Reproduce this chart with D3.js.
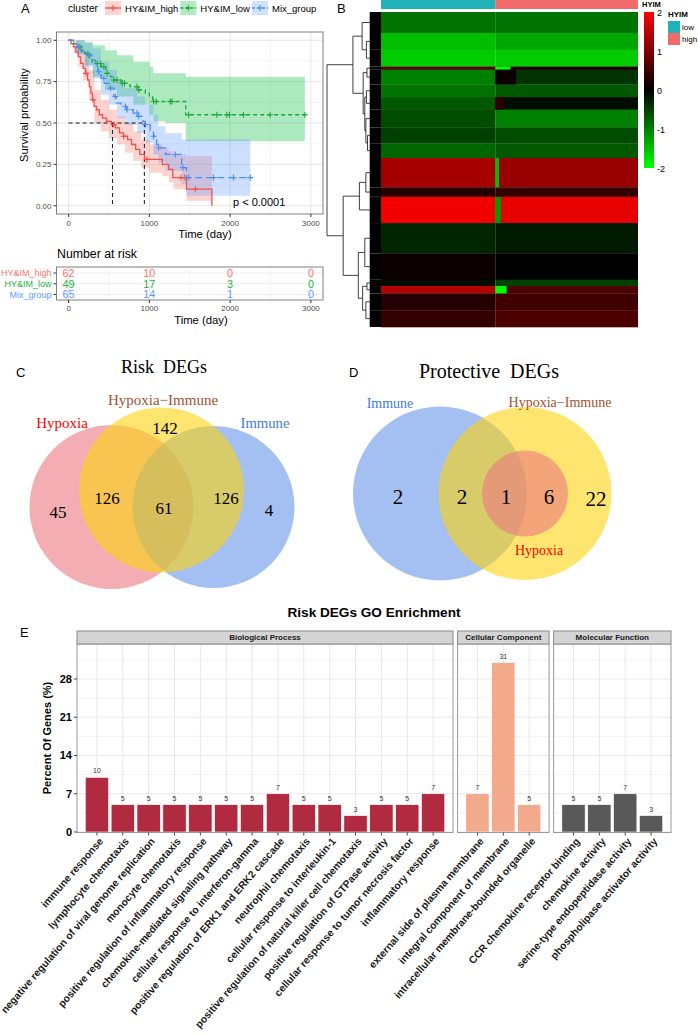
<!DOCTYPE html>
<html><head><meta charset="utf-8">
<script src="https://cdn.jsdelivr.net/npm/d3@7"></script>
<style>
body{margin:0;background:#fff}
svg{display:block}
text{font-family:"Liberation Sans",Arial,Helvetica,sans-serif}
.serif{font-family:"Liberation Serif","Times New Roman",serif}
</style></head><body>
<svg id="chart" width="698" height="1034"></svg>
<script>
// ================= DATA =================
// Panel A : Kaplan-Meier
const clusterNames = ["HY&IM_high", "HY&IM_low", "Mix_group"];
const survHigh = [[0,1],[30,0.98],[60,0.96],[90,0.93],[120,0.90],[150,0.86],[180,0.83],[210,0.80],[235,0.76],[255,0.72],[275,0.68],[295,0.64],[315,0.60],[345,0.58],[380,0.55],[420,0.53],[470,0.51],[530,0.49],[580,0.47],[630,0.44],[680,0.42],[730,0.40],[780,0.37],[830,0.34],[880,0.31],[940,0.28],[1160,0.25],[1240,0.22],[1290,0.17],[1460,0.10],[1774,0]];
const survLow = [[0,1],[50,0.98],[100,0.96],[150,0.94],[200,0.92],[260,0.89],[290,0.86],[400,0.84],[460,0.80],[520,0.78],[560,0.76],[650,0.74],[760,0.72],[850,0.70],[950,0.68],[1000,0.66],[1040,0.63],[1450,0.55],[2950,0.55]];
const survMix = [[0,1],[60,0.98],[100,0.96],[160,0.93],[240,0.91],[290,0.88],[330,0.84],[360,0.81],[400,0.77],[440,0.74],[500,0.71],[560,0.66],[590,0.62],[650,0.60],[720,0.58],[800,0.56],[860,0.54],[920,0.51],[950,0.49],[1010,0.45],[1050,0.42],[1090,0.37],[1110,0.35],[1200,0.31],[1400,0.23],[1460,0.17],[2260,0.17]];
const bandHigh = [[0,1,1],[60,0.92,1],[120,0.84,0.97],[180,0.76,0.92],[250,0.64,0.82],[320,0.50,0.70],[400,0.45,0.64],[500,0.41,0.58],[600,0.37,0.54],[700,0.32,0.50],[800,0.27,0.45],[900,0.23,0.40],[1000,0.20,0.37],[1160,0.18,0.35],[1240,0.14,0.33],[1300,0.10,0.31],[1460,0.03,0.30],[1774,0.03,0.30]];
const bandLow = [[0,1,1],[100,0.92,1],[200,0.85,0.99],[300,0.78,0.97],[450,0.70,0.94],[600,0.66,0.91],[800,0.61,0.87],[1000,0.55,0.84],[1050,0.51,0.80],[1200,0.50,0.80],[1450,0.39,0.78],[2926,0.39,0.78]];
const bandMix = [[0,1,1],[100,0.91,1],[200,0.84,0.98],[300,0.77,0.95],[400,0.67,0.87],[500,0.61,0.82],[600,0.53,0.76],[700,0.49,0.71],[850,0.44,0.66],[950,0.38,0.61],[1050,0.31,0.55],[1110,0.26,0.48],[1200,0.21,0.44],[1400,0.13,0.40],[1460,0.06,0.40],[2250,0.06,0.40]];
const censorHigh = [215,300,560,680,970,1390,1440,1570];
const censorLow = [140,239,354,395,436,477,560,601,663,691,847,868,1053,1086,1259,1280,1485,1835,1959,1992,2165,2494,2926];
const censorMix = [127,251,374,436,519,580,704,724,847,868,951,1053,1115,1321,1415,1485,1794,2041,2250];
const medianTimes = [543, 938];
const timeTicks = [0, 1000, 2000, 3000];
const survTicks = [0, 0.25, 0.5, 0.75, 1];
const riskHigh = [62, 10, 0, 0];
const riskLow = [49, 17, 3, 0];
const riskMix = [65, 14, 1, 0];

// Panel B : heatmap (row bands, top to bottom) and group sizes
const hyimGroups = ["low", "high"];
const hyimSizes = [60, 75];
const heatBandRows = [20,16,16,3,14,12,12,17,15,14,28,9,25,29,25,6,7,16,16];
const heatLow  = [-0.9,-1.5,-1.6,0.7,-1.0,-0.9,-0.7,-0.6,-0.5,-0.8,1.3,0.3,1.9,-0.3,0.1,-0.1,1.4,0.3,0.4];
const heatHigh = [-0.9,-1.3,-1.6,0.3,-0.4,-0.7,-0.1,-1.0,-0.6,-0.7,1.2,0.4,1.8,-0.2,0.0,-0.5,0.6,0.5,0.6];
// [band, firstCol, lastCol, value] local patches seen in the picture
const heatPatches = [[3,60,67,-2],[16,60,65,-2],[12,60,62,-1.2],[10,60,61,-1.5],[4,60,70,0.1],[6,60,63,0.4]];
const colorTicks = [2, 1, 0, -1, -2];
// dendrogram: [height, left, right] ; number = leaf block of rows
const dendro = [1.0,
  [0.52, [0.35, 20, [0.27, 16, 16]],
         [0.33, [0.26, 3, 14], [0.30, [0.27, 12, 12], [0.28, 17, [0.25, 15, 14]]]]],
  [0.70, [0.40, [0.28, 28, 9], 25],
         [0.42, [0.30, 29, 25], [0.34, [0.26, 6, 7], [0.28, 16, 16]]]]];

// Panel C / D : Venn counts
const riskSets = ["Hypoxia", "Hypoxia\u2212Immune", "Immune"];
const riskCounts = [45, 126, 142, 61, 126, 4]; // H only, H∩HI, HI only, all, HI∩I, I only
const protSets = ["Immune", "Hypoxia\u2212Immune", "Hypoxia"];
const protCounts = [2, 2, 1, 6, 22]; // I only, I∩HI, all, H∩HI, HI only

// Panel E : GO enrichment
const facetNames = ["Biological Process", "Cellular Component", "Molecular Function"];
const bpTerms = ["immune response","lymphocyte chemotaxis","negative regulation of viral genome replication","monocyte chemotaxis","positive regulation of inflammatory response","chemokine-mediated signaling pathway","cellular response to interferon-gamma","positive regulation of ERK1 and ERK2 cascade","neutrophil chemotaxis","cellular response to interleukin-1","positive regulation of natural killer cell chemotaxis","positive regulation of GTPase activity","cellular response to tumor necrosis factor","inflammatory response"];
const bpValues = [10,5,5,5,5,5,5,7,5,5,3,5,5,7];
const ccTerms = ["external side of plasma membrane","integral component of membrane","intracellular membrane-bounded organelle"];
const ccValues = [7,31,5];
const mfTerms = ["CCR chemokine receptor binding","chemokine activity","serine-type endopeptidase activity","phospholipase activator activity"];
const mfValues = [5,5,7,3];
const pctTicks = [0,7,14,21,28];

// ================= DRAW =================
const svg = d3.select("#chart");
svg.append("rect").attr("width",698).attr("height",1034).attr("fill","#fff");

// ---------- Panel A ----------
(function(){
  const lineCol = ["#F0514C", "#1EA83A", "#4F8CF6"];
  const fillCol = ["#F8766D", "#00BA38", "#619CFF"];
  const txtCol  = ["#F8766D", "#1DB33C", "#619CFF"];
  const dashes  = [null, "4,3", "7,4"];
  const survs = [survHigh, survLow, survMix];
  const bands = [bandHigh, bandLow, bandMix];
  const cens  = [censorHigh, censorLow, censorMix];
  const risks = [riskHigh, riskLow, riskMix];
  const L = 56.5, R = 323, T = 32, B = 214;
  const x = d3.scaleLinear().domain([-150, 3150]).range([L, R]);
  const y = d3.scaleLinear().domain([-0.05, 1.05]).range([B, T]);
  const g = svg.append("g");

  g.append("text").text("A").attr("x",21).attr("y",13).attr("font-size",13);

  // grid
  const minorX = [500,1500,2500];
  g.selectAll(".gmx").data(minorX).join("line").attr("x1",d=>x(d)).attr("x2",d=>x(d)).attr("y1",T).attr("y2",B).attr("stroke","#F3F3F3");
  g.selectAll(".gmy").data([0.125,0.375,0.625,0.875]).join("line").attr("x1",L).attr("x2",R).attr("y1",d=>y(d)).attr("y2",d=>y(d)).attr("stroke","#F3F3F3");
  g.selectAll(".gx").data(timeTicks).join("line").attr("x1",d=>x(d)).attr("x2",d=>x(d)).attr("y1",T).attr("y2",B).attr("stroke","#E6E6E6");
  g.selectAll(".gy").data(survTicks).join("line").attr("x1",L).attr("x2",R).attr("y1",d=>y(d)).attr("y2",d=>y(d)).attr("stroke","#E6E6E6");

  svg.append("clipPath").attr("id","clipA").append("rect").attr("x",L).attr("y",T).attr("width",R-L).attr("height",B-T);
  const pg = g.append("g").attr("clip-path","url(#clipA)");
  const area = d3.area().x(d=>x(d[0])).y0(d=>y(d[1])).y1(d=>y(d[2])).curve(d3.curveStepAfter);
  bands.forEach((b,i)=>{
    pg.append("path").attr("d",area(b)).attr("fill",fillCol[i]).attr("fill-opacity",0.32);
  });
  // median lines
  pg.append("line").attr("x1",x(0)).attr("x2",x(d3.max(medianTimes))).attr("y1",y(0.5)).attr("y2",y(0.5))
    .attr("stroke","#000").attr("stroke-dasharray","4,3").attr("stroke-width",0.9);
  medianTimes.forEach(t=>{
    pg.append("line").attr("x1",x(t)).attr("x2",x(t)).attr("y1",y(0.5)).attr("y2",y(0))
      .attr("stroke","#000").attr("stroke-dasharray","4,3").attr("stroke-width",0.9);
  });
  const line = d3.line().x(d=>x(d[0])).y(d=>y(d[1])).curve(d3.curveStepAfter);
  const sAt = (s,t)=>{let v=s[0][1]; for(const p of s){ if(p[0]<=t) v=p[1]; } return v;};
  survs.forEach((s,i)=>{
    pg.append("path").attr("d",line(s)).attr("fill","none").attr("stroke",lineCol[i])
      .attr("stroke-width",1.3).attr("stroke-dasharray",dashes[i]);
    pg.selectAll(null).data(cens[i]).join("path")
      .attr("d",t=>`M${x(t)-3},${y(sAt(s,t))}h6M${x(t)},${y(sAt(s,t))-3}v6`)
      .attr("stroke",lineCol[i]).attr("stroke-width",1.1);
  });
  g.append("rect").attr("x",L).attr("y",T).attr("width",R-L).attr("height",B-T).attr("fill","none").attr("stroke","#808080").attr("stroke-width",1);

  // axes
  g.selectAll(".tyl").data(survTicks).join("text").text(d=>d3.format(".2f")(d))
    .attr("x",L-5).attr("y",d=>y(d)).attr("dy","0.35em").attr("text-anchor","end").attr("font-size",8).attr("fill","#4D4D4D");
  g.selectAll(".tyt").data(survTicks).join("line").attr("x1",L-3).attr("x2",L).attr("y1",d=>y(d)).attr("y2",d=>y(d)).attr("stroke","#333");
  g.selectAll(".txt").data(timeTicks).join("line").attr("x1",d=>x(d)).attr("x2",d=>x(d)).attr("y1",B).attr("y2",B+3).attr("stroke","#333");
  g.selectAll(".txl").data(timeTicks).join("text").text(d=>d)
    .attr("x",d=>x(d)).attr("y",B+12).attr("text-anchor","middle").attr("font-size",8).attr("fill","#4D4D4D");
  g.append("text").text("Time (day)").attr("x",205).attr("y",238).attr("text-anchor","middle").attr("font-size",11.3);
  g.append("text").text("Survival probability").attr("transform","translate(28,115) rotate(-90)").attr("text-anchor","middle").attr("font-size",11.2);
  g.append("text").text("p < 0.0001").attr("x",233).attr("y",206).attr("font-size",11);

  // legend
  let lx = 68;
  const tc = g.append("text").text("cluster").attr("x",lx).attr("y",12).attr("font-size",10.2);
  lx += tc.node().getComputedTextLength() + 7;
  clusterNames.forEach((nm,i)=>{
    const k = g.append("g").attr("transform",`translate(${lx},1)`);
    k.append("rect").attr("width",16).attr("height",14).attr("fill",fillCol[i]).attr("fill-opacity",0.3);
    k.append("line").attr("x1",0).attr("x2",16).attr("y1",7).attr("y2",7).attr("stroke",lineCol[i]).attr("stroke-width",1.3).attr("stroke-dasharray",dashes[i]?"3,2":null);
    k.append("path").attr("d","M5,7h6M8,4v6").attr("stroke",lineCol[i]).attr("stroke-width",1.1);
    lx += 20;
    const t = g.append("text").text(nm).attr("x",lx).attr("y",12).attr("font-size",9.5);
    lx += t.node().getComputedTextLength() + 2;
  });

  // risk table
  g.append("text").text("Number at risk").attr("x",57).attr("y",258).attr("font-size",12.3);
  const TT = 267, TB = 300;
  const ry = d3.scalePoint().domain(clusterNames).range([273, 294.5]);
  g.selectAll(".rgm").data([500,1500,2500]).join("line").attr("x1",d=>x(d)).attr("x2",d=>x(d)).attr("y1",TT).attr("y2",TB).attr("stroke","#F3F3F3");
  g.selectAll(".rgx").data(timeTicks).join("line").attr("x1",d=>x(d)).attr("x2",d=>x(d)).attr("y1",TT).attr("y2",TB).attr("stroke","#E6E6E6");
  g.selectAll(".rgy").data(clusterNames).join("line").attr("x1",L).attr("x2",R).attr("y1",d=>ry(d)).attr("y2",d=>ry(d)).attr("stroke","#EDEDED");
  clusterNames.forEach((nm,i)=>{
    g.selectAll(null).data(risks[i]).join("text").text(d=>d)
      .attr("x",(d,j)=>x(timeTicks[j])).attr("y",ry(nm)).attr("dy","0.36em").attr("text-anchor","middle")
      .attr("font-size",10.8).attr("fill",txtCol[i]);
    g.append("text").text(nm).attr("x",L-5).attr("y",ry(nm)).attr("dy","0.35em").attr("text-anchor","end").attr("font-size",9).attr("fill",txtCol[i]);
    g.append("line").attr("x1",L-3).attr("x2",L).attr("y1",ry(nm)).attr("y2",ry(nm)).attr("stroke","#333");
  });
  g.append("rect").attr("x",L).attr("y",TT).attr("width",R-L).attr("height",TB-TT).attr("fill","none").attr("stroke","#808080");
  g.selectAll(".rtx").data(timeTicks).join("line").attr("x1",d=>x(d)).attr("x2",d=>x(d)).attr("y1",TB).attr("y2",TB+3).attr("stroke","#333");
  g.selectAll(".rtl").data(timeTicks).join("text").text(d=>d)
    .attr("x",d=>x(d)).attr("y",TB+11).attr("text-anchor","middle").attr("font-size",8).attr("fill","#4D4D4D");
  g.append("text").text("Time (day)").attr("x",201).attr("y",324).attr("text-anchor","middle").attr("font-size",11.3);
})();

// ---------- Panel B ----------
(function(){
  const g = svg.append("g");
  const HL = 381, HR = 638, HT = 12, HB = 327;
  g.append("text").text("B").attr("x",337).attr("y",13).attr("font-size",13);
  const nCols = d3.sum(hyimSizes), nRows = d3.sum(heatBandRows);
  const cx = d3.scaleLinear().domain([0, nCols]).range([HL, HR]);
  const ry = d3.scaleLinear().domain([0, nRows]).range([HT, HB]);
  const col = d3.scaleLinear().domain([-2,0,2]).range(["#00FF00","#000000","#FF0000"]).clamp(true);
  const grpCol = ["#1DB3B7", "#F26B6B"];
  // annotation bar
  let c0 = 0;
  hyimSizes.forEach((n,i)=>{
    g.append("rect").attr("x",cx(c0)).attr("y",0).attr("width",cx(c0+n)-cx(c0)).attr("height",9).attr("fill",grpCol[i]);
    c0 += n;
  });
  g.append("text").text("HYIM").attr("x",HR+4).attr("y",6.5).attr("font-size",7.5).attr("font-weight","bold");
  // heat bands
  let r0 = 0;
  const starts = [];
  heatBandRows.forEach((n,i)=>{
    starts.push(r0);
    g.append("rect").attr("x",cx(0)).attr("y",ry(r0)).attr("width",cx(hyimSizes[0])-cx(0)).attr("height",ry(r0+n)-ry(r0)+0.3).attr("fill",col(heatLow[i]));
    g.append("rect").attr("x",cx(hyimSizes[0])).attr("y",ry(r0)).attr("width",cx(nCols)-cx(hyimSizes[0])).attr("height",ry(r0+n)-ry(r0)+0.3).attr("fill",col(heatHigh[i]));
    r0 += n;
  });
  heatPatches.forEach(p=>{
    const [b,a,z,v] = p;
    g.append("rect").attr("x",cx(a)).attr("y",ry(starts[b])).attr("width",cx(z+1)-cx(a)).attr("height",ry(starts[b]+heatBandRows[b])-ry(starts[b])).attr("fill",col(v));
  });
  // dendrogram
  const hx = h => HL - h*54;
  const leafH = 0.2;
  const dg = g.append("g").attr("stroke","#2a2a2a").attr("stroke-width",0.9).attr("fill","none");
  const comb = g.append("g");
  function lay(node, start){
    if (typeof node === "number"){
      // dense leaf block: one branch per gene row, rendered solid black like the original
      comb.append("rect").attr("x",hx(leafH)-0.5).attr("y",ry(start)).attr("width",HL-hx(leafH)+0.5)
        .attr("height",ry(start+node)-ry(start)).attr("fill","#000");
      return {y: ry(start+node/2), h: leafH, end: start+node};
    }
    const [h,a,b] = node;
    const la = lay(a,start), lb = lay(b,la.end);
    dg.append("line").attr("x1",hx(h)).attr("x2",hx(h)).attr("y1",la.y).attr("y2",lb.y);
    dg.append("line").attr("x1",hx(h)).attr("x2",hx(la.h)).attr("y1",la.y).attr("y2",la.y);
    dg.append("line").attr("x1",hx(h)).attr("x2",hx(lb.h)).attr("y1",lb.y).attr("y2",lb.y);
    return {y:(la.y+lb.y)/2, h, end: lb.end};
  }
  lay(dendro, 0);
  // color bar
  const defs = svg.append("defs");
  const grad = defs.append("linearGradient").attr("id","heatGrad").attr("x1",0).attr("x2",0).attr("y1",0).attr("y2",1);
  colorTicks.forEach((v,i)=>grad.append("stop").attr("offset",i/(colorTicks.length-1)).attr("stop-color",col(v)));
  const cy = d3.scaleLinear().domain([2,-2]).range([12,168]);
  g.append("rect").attr("x",644).attr("y",cy(2)).attr("width",10).attr("height",cy(-2)-cy(2)).attr("fill","url(#heatGrad)");
  g.selectAll(".ct").data(colorTicks).join("text").text(d=>d).attr("x",657).attr("y",d=>cy(d)+1).attr("dy","0.35em").attr("font-size",9);
  g.append("text").text("HYIM").attr("x",668).attr("y",17).attr("font-size",8).attr("font-weight","bold");
  hyimGroups.forEach((nm,i)=>{
    g.append("rect").attr("x",668).attr("y",21+i*12).attr("width",12).attr("height",12).attr("fill",grpCol[i]);
    g.append("text").text(nm).attr("x",682).attr("y",27+i*12).attr("dy","0.35em").attr("font-size",8);
  });
})();

// ---------- Panel C & D (Venn) ----------
(function(){
  const g = svg.append("g");
  const vRed = "#ED7880", vYel = "#FBD30F", vBlue = "#6794E8";
  const lblRed = "#FF0000", lblBrown = "#A5522D", lblBlue = "#3D7ED8";
  g.append("text").text("C").attr("x",16).attr("y",377).attr("font-size",13);
  g.append("text").text("D").attr("x",349).attr("y",377).attr("font-size",13);
  g.append("text").attr("class","serif").attr("xml:space","preserve").style("white-space","pre").text("Risk  DEGs").attr("x",164).attr("y",373).attr("text-anchor","middle").attr("font-size",18);
  g.append("text").attr("class","serif").attr("xml:space","preserve").style("white-space","pre").text("Protective  DEGs").attr("x",489).attr("y",378).attr("text-anchor","middle").attr("font-size",20);
  // C circles: draw order pink, blue, yellow
  const C = [
    {cx:111.5, cy:507, r:82, fill:vRed},
    {cx:213.5, cy:507, r:81, fill:vBlue},
    {cx:161.5, cy:490, r:82.5, fill:vYel}];
  C.forEach(c=>g.append("circle").attr("cx",c.cx).attr("cy",c.cy).attr("r",c.r).attr("fill",c.fill).attr("fill-opacity",0.6));
  const cl = [[riskSets[0],62,423,lblRed,15],[riskSets[1],163,400,lblBrown,15],[riskSets[2],265,423,lblBlue,14.7]];
  cl.forEach(d=>g.append("text").attr("class","serif").text(d[0]).attr("x",d[1]).attr("y",d[2]).attr("dy","0.35em").attr("text-anchor","middle").attr("fill",d[3]).attr("font-size",d[4]));
  const cpos = [[58,512],[107,498],[165,428],[164,508],[226,498],[269,510]];
  riskCounts.forEach((v,i)=>g.append("text").attr("class","serif").text(v).attr("x",cpos[i][0]).attr("y",cpos[i][1]).attr("dy","0.35em").attr("text-anchor","middle").attr("font-size",17));
  // D : blue, yellow, hypoxia inner
  const D = [
    {cx:440, cy:493.5, r:87, fill:vBlue},
    {cx:525, cy:493.5, r:86.5, fill:vYel},
    {cx:525, cy:493.5, r:43, fill:vRed}];
  D.forEach(c=>g.append("circle").attr("cx",c.cx).attr("cy",c.cy).attr("r",c.r).attr("fill",c.fill).attr("fill-opacity",0.6));
  const dl = [[protSets[0],390,403,lblBlue,14],[protSets[1],560,402,lblBrown,14],[protSets[2],539,550,lblRed,14]];
  dl.forEach(d=>g.append("text").attr("class","serif").text(d[0]).attr("x",d[1]).attr("y",d[2]).attr("dy","0.35em").attr("text-anchor","middle").attr("fill",d[3]).attr("font-size",d[4]));
  const dpos = [[398,497],[462,497],[506,497],[549,497],[596,499]];
  protCounts.forEach((v,i)=>g.append("text").attr("class","serif").text(v).attr("x",dpos[i][0]).attr("y",dpos[i][1]).attr("dy","0.35em").attr("text-anchor","middle").attr("font-size",21));
})();

// ---------- Panel E ----------
(function(){
  const g = svg.append("g");
  g.append("text").text("E").attr("x",20).attr("y",637).attr("font-size",13);
  g.append("text").text("Risk DEGs GO Enrichment").attr("x",374).attr("y",617).attr("text-anchor","middle").attr("font-size",13.6).attr("font-weight","bold");
  const facets = [
    {name:facetNames[0], terms:bpTerms, vals:bpValues, color:"#B02A40"},
    {name:facetNames[1], terms:ccTerms, vals:ccValues, color:"#F3A98B"},
    {name:facetNames[2], terms:mfTerms, vals:mfValues, color:"#595959"}];
  const PL = 77, PR = 671, ST = 631, PT = 644, PB = 832.5, gap = 4.5, pad = 0.77;
  const units = d3.sum(facets, f=>f.terms.length-1+2*pad);
  const uw = (PR-PL-gap*(facets.length-1))/units;
  const y = d3.scaleLinear().domain([0, 34.4]).range([832, PT]);
  let fx = PL;
  facets.forEach((f,fi)=>{
    const w = (f.terms.length-1+2*pad)*uw;
    const x = d3.scaleLinear().domain([-pad, f.terms.length-1+pad]).range([fx, fx+w]);
    const fg = g.append("g");
    // grid
    const minor = d3.range(3.5, 34.4, 7);
    fg.selectAll(null).data(minor).join("line").attr("x1",fx).attr("x2",fx+w).attr("y1",d=>y(d)).attr("y2",d=>y(d)).attr("stroke","#F3F3F3");
    fg.selectAll(null).data(pctTicks).join("line").attr("x1",fx).attr("x2",fx+w).attr("y1",d=>y(d)).attr("y2",d=>y(d)).attr("stroke","#E8E8E8");
    fg.selectAll(null).data(f.terms).join("line").attr("x1",(d,i)=>x(i)).attr("x2",(d,i)=>x(i)).attr("y1",PT).attr("y2",PB).attr("stroke","#E8E8E8");
    // bars
    fg.selectAll(null).data(f.vals).join("rect")
      .attr("x",(d,i)=>x(i-0.45)).attr("width",0.9*uw).attr("y",d=>y(d)).attr("height",d=>y(0)-y(d))
      .attr("fill",f.color).attr("stroke","#fff").attr("stroke-width",0.6);
    fg.selectAll(null).data(f.vals).join("text").text(d=>d)
      .attr("x",(d,i)=>x(i)).attr("y",d=>y(d)-4).attr("text-anchor","middle").attr("font-size",7).attr("fill","#333");
    // border & strip
    fg.append("rect").attr("x",fx).attr("y",PT).attr("width",w).attr("height",PB-PT).attr("fill","none").attr("stroke","#9A9A9A");
    fg.append("rect").attr("x",fx).attr("y",ST).attr("width",w).attr("height",PT-ST).attr("fill","#D4D4D4").attr("stroke","#8A8A8A");
    fg.append("text").text(f.name).attr("x",fx+w/2).attr("y",(ST+PT)/2).attr("dy","0.36em").attr("text-anchor","middle").attr("font-size",8).attr("font-weight","bold").attr("fill","#1a1a1a");
    // x ticks and labels
    fg.selectAll(null).data(f.terms).join("line").attr("x1",(d,i)=>x(i)).attr("x2",(d,i)=>x(i)).attr("y1",PB).attr("y2",PB+3).attr("stroke","#444");
    fg.selectAll(null).data(f.terms).join("text").text(d=>d)
      .attr("transform",(d,i)=>`translate(${x(i)+2},${PB+5}) rotate(-49)`)
      .attr("text-anchor","end").attr("dy","0.62em").attr("font-size",10.3).attr("font-weight","bold").attr("fill","#1a1a1a");
    if (fi===0){
      fg.selectAll(null).data(pctTicks).join("text").text(d=>d).attr("x",fx-5).attr("y",d=>y(d)).attr("dy","0.36em").attr("text-anchor","end").attr("font-size",11).attr("font-weight","bold");
      fg.selectAll(null).data(pctTicks).join("line").attr("x1",fx-3).attr("x2",fx).attr("y1",d=>y(d)).attr("y2",d=>y(d)).attr("stroke","#444");
    }
    fx += w + gap;
  });
  g.append("text").text("Percent Of Genes (%)").attr("transform","translate(51,738) rotate(-90)").attr("text-anchor","middle").attr("font-size",11).attr("font-weight","bold");
})();
</script></body></html>
